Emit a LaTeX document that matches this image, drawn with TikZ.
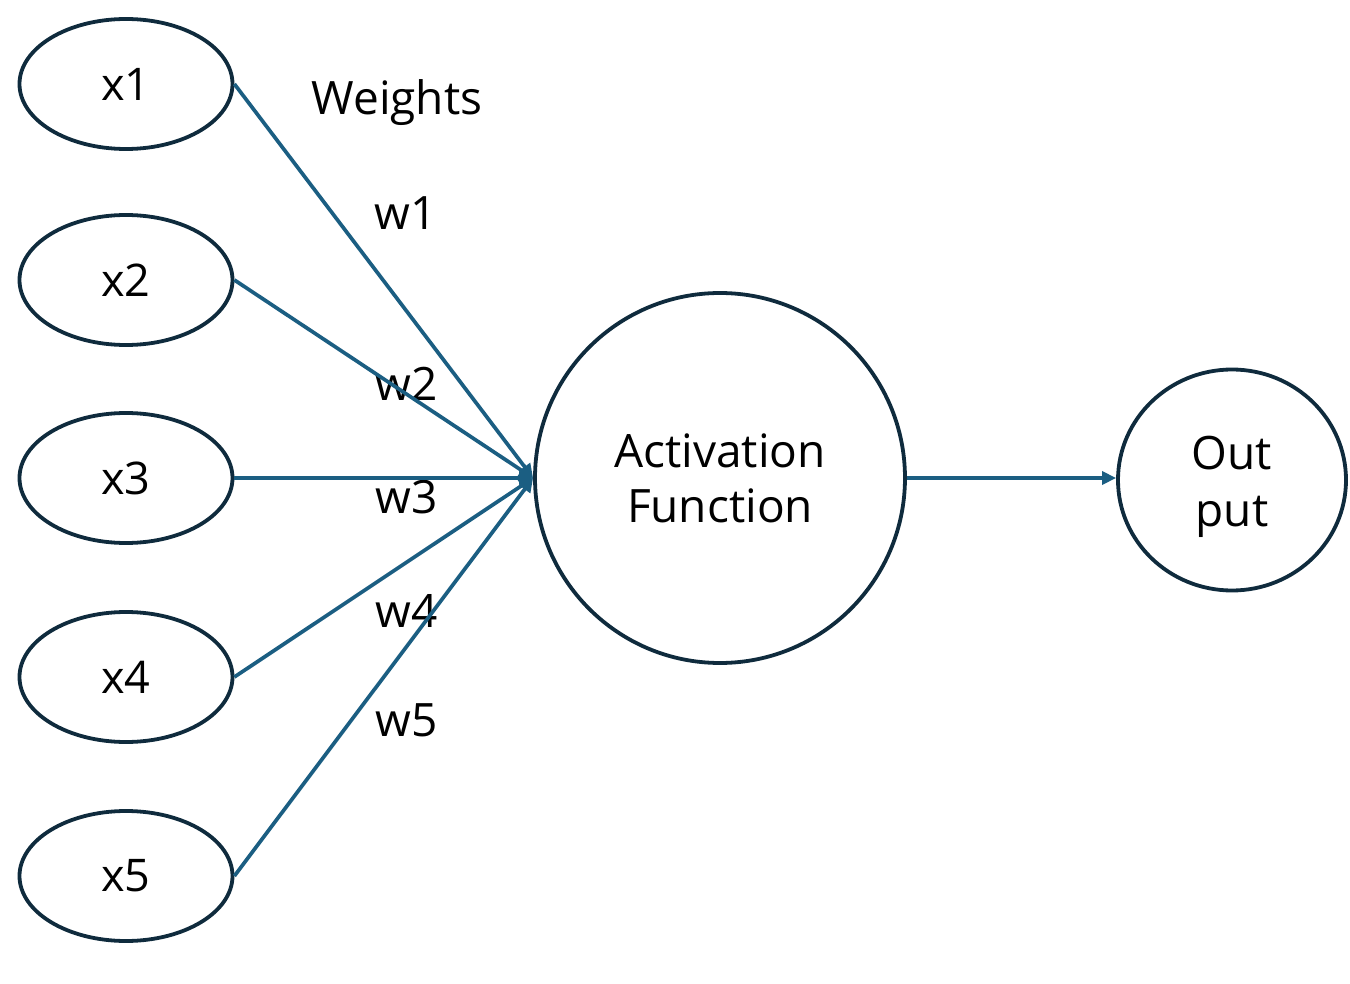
\documentclass[tikz,border=0pt]{standalone}
\usepackage{fontspec}
\setmainfont{Open Sans}
\usetikzlibrary{arrows.meta,shapes.geometric}
\definecolor{edgeblue}{HTML}{1B5E82}
\definecolor{outline}{HTML}{0F2B3D}
\tikzset{
  inp/.style={ellipse,draw=outline,line width=3.8pt,minimum width=213pt,minimum height=130pt,inner sep=0pt,font=\fontsize{45}{52}\selectfont},
  bigc/.style={circle,draw=outline,line width=3.8pt,minimum size=370pt,inner sep=0pt,align=center,font=\fontsize{46}{55}\selectfont},
  outc/.style={ellipse,draw=outline,line width=3.8pt,minimum width=228pt,minimum height=221pt,inner sep=0pt},
  ctext/.style={align=center,inner sep=0pt,font=\fontsize{46}{57}\selectfont},
  conn/.style={draw=edgeblue,line width=3.7pt,-{Triangle[length=14pt,width=13pt]}},
  lbl/.style={anchor=base,inner sep=0pt,font=\fontsize{46}{52}\selectfont}
}
\begin{document}
\begin{tikzpicture}[x=1pt,y=-1pt]
\useasboundingbox (0,0) rectangle (1350,984);
\node[inp] (x1) at (126,84) {x1};
\node[inp] (x2) at (126,280) {x2};
\node[inp] (x3) at (126,478) {x3};
\node[inp] (x4) at (126,677) {x4};
\node[inp] (x5) at (126,876) {x5};
\node[bigc] (act) at (720,478) {Activation\\Function};
\node[outc] (out) at (1232,480) {};
\node[ctext] (outtxt) at (1232,487) {Out\\put};
\node[lbl] (wt) at (397,115) {Weights};
\node[lbl] (w1) at (406,230) {w1};
\node[lbl] (w2) at (407,400) {w2};
\node[lbl] (w3) at (407,513) {w3};
\node[lbl] (w4) at (407,627) {w4};
\node[lbl] (w5) at (407,736) {w5};
\foreach \i in {1,...,5}{
  \draw[conn] (x\i.east) -- (act.west);
}
\draw[conn] (act.east) -- (act.east -| out.west);
\end{tikzpicture}
\end{document}
